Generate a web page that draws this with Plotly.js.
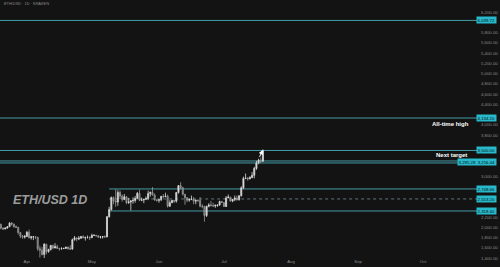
<!DOCTYPE html>
<html><head><meta charset="utf-8">
<script src="https://cdn.plot.ly/plotly-3.0.1.min.js"></script>
<style>html,body{margin:0;padding:0;background:#131313;}#chart{width:500px;height:267px;}</style>
</head><body><div id="chart"></div>
<script>
const startDate = [2025, 2, 19];
const open  = [1927,2057,1981,1967,1984,2010,2082,2063,2012,2002,1896,1827,1806,1822,1904,1795,1815,1816,1806,1580,1552,1470,1670,1522,1567,1646,1595,1623,1586,1578,1583,1587,1613,1586,1576,1757,1795,1771,1786,1818,1793,1799,1800,1795,1840,1843,1833,1806,1814,1816,1812,2205,2345,2582,2513,2493,2680,2610,2545,2596,2478,2494,2517,2525,2560,2663,2527,2532,2547,2564,2658,2682,2630,2532,2527,2538,2605,2594,2608,2412,2481,2525,2510,2677,2815,2772,2645,2578,2528,2545,2552,2510,2525,2524,2413,2409,2230,2410,2435,2420,2415,2425,2435,2503,2485,2406,2573,2590,2512,2545,2570,2540,2617,2770,2955,2960,2945,2970,3015,3150,3260,3310,3290];
const high  = [2068,2072,2000,2000,2025,2100,2100,2070,2035,2005,1905,1850,1850,1925,1955,1830,1830,1822,1812,1640,1615,1690,1675,1580,1655,1660,1690,1660,1600,1610,1600,1620,1620,1650,1780,1830,1800,1830,1830,1845,1820,1840,1825,1875,1865,1850,1845,1830,1830,1840,2220,2400,2600,2600,2740,2725,2720,2640,2650,2605,2575,2520,2585,2610,2690,2735,2580,2550,2600,2715,2700,2785,2660,2545,2545,2610,2650,2675,2640,2525,2535,2535,2690,2825,2880,2790,2650,2590,2560,2620,2590,2540,2545,2590,2450,2415,2420,2470,2515,2480,2450,2440,2520,2515,2490,2610,2640,2595,2550,2620,2620,2620,2800,2990,3050,2980,3000,3080,3180,3300,3340,3360,3520];
const low   = [1924,1960,1944,1960,1973,2005,2030,1990,1985,1860,1790,1775,1780,1812,1780,1760,1750,1770,1540,1410,1450,1385,1470,1505,1545,1570,1590,1580,1545,1565,1575,1580,1560,1555,1560,1740,1725,1750,1775,1790,1740,1780,1750,1790,1828,1820,1795,1780,1780,1795,1805,2190,2325,2450,2400,2420,2550,2500,2530,2450,2460,2330,2460,2480,2550,2510,2510,2470,2540,2530,2600,2620,2520,2500,2480,2510,2580,2590,2385,2400,2470,2475,2480,2660,2740,2620,2440,2490,2500,2530,2450,2450,2490,2390,2370,2110,2200,2390,2415,2400,2380,2400,2420,2480,2400,2395,2570,2500,2490,2510,2520,2520,2600,2750,2940,2910,2940,2960,2955,3120,3230,3250,3280];
const close = [2057,1981,1967,1984,2010,2082,2063,2012,2002,1896,1827,1806,1822,1904,1795,1815,1816,1806,1580,1552,1470,1670,1522,1567,1646,1595,1623,1586,1578,1583,1587,1613,1586,1576,1757,1795,1771,1786,1818,1793,1799,1800,1795,1840,1843,1833,1806,1814,1816,1812,2205,2345,2582,2513,2493,2680,2610,2545,2596,2478,2494,2517,2525,2560,2663,2527,2532,2547,2564,2658,2682,2630,2532,2527,2538,2605,2594,2608,2412,2481,2525,2510,2677,2815,2772,2645,2578,2528,2545,2552,2510,2525,2524,2413,2409,2230,2410,2435,2420,2415,2425,2435,2503,2485,2406,2573,2590,2512,2545,2570,2540,2617,2770,2955,2960,2945,2970,3015,3150,3260,3310,3290,3500];

const monthTicks  = ['2025-04-01','2025-05-01','2025-06-01','2025-07-01','2025-08-01','2025-09-01','2025-10-01'];
const monthLabels = ['Apr','May','Jun','Jul','Aug','Sep','Oct'];
const priceTicks = [1400,1600,1800,2000,2200,2400,2600,2800,3000,3200,3400,3600,3800,4000,4200,4400,4600,4800,5000,5200,5400,5600,5800,6000,6200,6400];

const topLevel = 6039.72;
const athLevel = 4134.20;
const targetLevels = [3295.28, 3256.04];
const rangeLevels = [2748.66, 2318.40];
const midLevel = 2553.20;
const rangeStart = '2025-05-09';

const headerText = 'ETH/USD · 1D · KRAKEN';
const watermarkText = 'ETH/USD 1D';
const athText = 'All-time high';
const targetText = 'Next target';

const dates = open.map((_, i) => new Date(Date.UTC(startDate[0], startDate[1], startDate[2] + i)).toISOString().slice(0, 10));
const lastClose = close[close.length - 1];
const fmt = v => v.toLocaleString('en-US', {minimumFractionDigits: 2, maximumFractionDigits: 2});

const LINE = 'rgba(80,190,204,0.8)';
const BOX = '#27b9cc';
const BG = '#131313';

const boxLevels = [topLevel, athLevel, lastClose, (targetLevels[0] + targetLevels[1]) / 2, rangeLevels[0], midLevel, rangeLevels[1]];
// tick labels hidden behind the price boxes, as in the reference
const shownTicks = priceTicks.filter(t => boxLevels.every(b => Math.abs(t - b) > 105));

const hline = (y, dash, color, fromDate) => ({
  type: 'line', xref: fromDate ? 'x' : 'paper', yref: 'y',
  x0: fromDate ? fromDate : 0, x1: fromDate ? '2025-11-30' : 1,
  y0: y, y1: y, line: {color: color || LINE, width: 1, dash: dash || 'solid'}, layer: 'below'
});

const box = (y, text) => ({
  xref: 'paper', yref: 'y', x: 1.0397, y: y, xanchor: 'right', yanchor: 'middle',
  text: text, showarrow: false, bgcolor: BOX, borderpad: 0.6,
  font: {family: 'Liberation Sans, Arial, sans-serif', size: 4.3, color: '#0b0b0b'}
});

const shapes = [
  hline(topLevel),
  hline(athLevel),
  hline(lastClose),
  hline(targetLevels[0]),
  hline(targetLevels[1]),
  hline(rangeLevels[0], 'solid', LINE, rangeStart),
  hline(midLevel, '3px,3px', 'rgba(130,160,165,0.7)', rangeStart),
  hline(rangeLevels[1], 'solid', LINE, rangeStart)
];

const annotations = [
  box(topLevel, fmt(topLevel)),
  box(athLevel, fmt(athLevel)),
  box(lastClose, fmt(lastClose)),
  box((targetLevels[0] + targetLevels[1]) / 2, fmt(targetLevels[0]) + '  ' + fmt(targetLevels[1])),
  box(rangeLevels[0], fmt(rangeLevels[0])),
  box(midLevel, fmt(midLevel)),
  box(rangeLevels[1], fmt(rangeLevels[1])),
  {xref: 'paper', yref: 'y', x: 0.985, y: athLevel, yshift: -5.5, xanchor: 'right', yanchor: 'middle',
   text: '<b>' + athText + '</b>', showarrow: false,
   font: {family: 'Liberation Sans, Arial, sans-serif', size: 6, color: '#ffffff'}},
  {xref: 'paper', yref: 'y', x: 0.982, y: targetLevels[0], yshift: 5.5, xanchor: 'right', yanchor: 'middle',
   text: '<b>' + targetText + '</b>', showarrow: false,
   font: {family: 'Liberation Sans, Arial, sans-serif', size: 6, color: '#ffffff'}},
  {xref: 'paper', yref: 'paper', x: 0.004, y: 0.985, xanchor: 'left', yanchor: 'middle',
   text: headerText, showarrow: false,
   font: {family: 'Liberation Sans, Arial, sans-serif', size: 3.9, color: '#8a8a8a'}},
  {xref: 'paper', yref: 'paper', x: 0.022, y: 0.225, xanchor: 'left', yanchor: 'middle',
   text: '<b><i>' + watermarkText + '</i></b>', showarrow: false,
   font: {family: 'Liberation Sans, Arial, sans-serif', size: 12.5, color: '#9c9c9c'}},
  {xref: 'x', yref: 'y', x: dates[dates.length - 1], y: high[high.length - 1], ax: -4, ay: 9,
   text: '', showarrow: true, arrowhead: 2, arrowsize: 0.9, arrowwidth: 1, arrowcolor: '#ffffff', standoff: 0.5}
];

const trace = {
  type: 'candlestick', x: dates, open: open, high: high, low: low, close: close,
  increasing: {line: {color: '#d9d9d9', width: 0.8}, fillcolor: '#d9d9d9'},
  decreasing: {line: {color: '#9a9a9a', width: 0.8}, fillcolor: '#5e5e5e'},
  whiskerwidth: 0, hoverinfo: 'none'
};

const layout = {
  width: 500, height: 267,
  margin: {l: 0, r: 22, t: 0, b: 9, pad: 0},
  paper_bgcolor: BG, plot_bgcolor: BG,
  showlegend: false,
  xaxis: {
    type: 'date', range: ['2025-03-19 14:00', '2025-10-26 08:00'],
    tickvals: monthTicks, ticktext: monthLabels,
    showgrid: false, zeroline: false, showline: false, ticks: '',
    tickfont: {family: 'Liberation Sans, Arial, sans-serif', size: 4.3, color: '#8c8c8c'},
    rangeslider: {visible: false}, fixedrange: true
  },
  yaxis: {
    side: 'right', range: [1400, 6439],
    tickvals: shownTicks, ticktext: shownTicks.map(fmt),
    showgrid: false, zeroline: false, showline: false, ticks: '', ticklabelstandoff: 2,
    tickfont: {family: 'Liberation Sans, Arial, sans-serif', size: 4.3, color: '#8c8c8c'},
    fixedrange: true
  },
  shapes: shapes,
  annotations: annotations
};

Plotly.newPlot('chart', [trace], layout, {staticPlot: true, displayModeBar: false});
</script>
</body></html>
